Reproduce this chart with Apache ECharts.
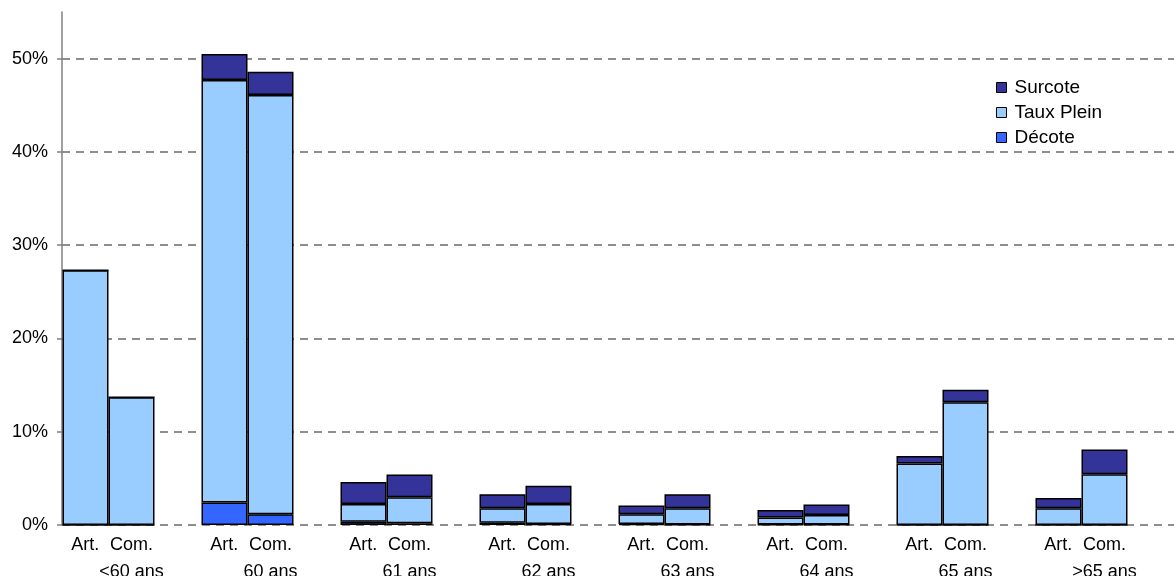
<!DOCTYPE html>
<html>
<head>
<meta charset="utf-8">
<script src="https://cdn.jsdelivr.net/npm/echarts@6/dist/echarts.min.js"></script>
<style>
html,body{margin:0;padding:0;background:#fff;}
#chart{width:1174px;height:576px;}
</style>
</head>
<body>
<div id="chart"></div>
<script>
// Age groups
const groups = ['<60 ans', '60 ans', '61 ans', '62 ans', '63 ans', '64 ans', '65 ans', '>65 ans'];
// Sub-bar labels within each group
const subLabels = ['Art.', 'Com.'];
// Y axis tick values (%)
const yTicks = [0, 10, 20, 30, 40, 50];

// Artisans (Art.)
const artDecote    = [0,    2.4,  0.35, 0.25, 0.1,  0.05, 0,    0];
const artTauxPlein = [27.3, 45.3, 1.9,  1.55, 1.05, 0.75, 6.6,  1.8];
const artSurcote   = [0,    2.8,  2.35, 1.5,  0.95, 0.8,  0.8,  1.1];
// Commerçants (Com.)
const comDecote    = [0,    1.15, 0.18, 0.1,  0.05, 0.05, 0,    0];
const comTauxPlein = [13.7, 44.95,2.8,  2.15, 1.75, 1.02, 13.15,5.45];
const comSurcote   = [0,    2.5,  2.43, 1.95, 1.5,  1.13, 1.35, 2.65];

const colors = { 'Surcote': '#333399', 'Taux Plein': '#99CCFF', 'Décote': '#3366FF' };
const FONT = 'Arial, "Liberation Sans", sans-serif';

const subAxisData = [];
groups.forEach(() => { subAxisData.push(subLabels[0], subLabels[1], ''); });

function barSeries(name, stack, data) {
  return {
    name: name, type: 'bar', stack: stack, data: data,
    barWidth: 46, barGap: '0%',
    itemStyle: { color: colors[name], borderColor: '#000', borderWidth: 1.5 },
    emphasis: { disabled: true }
  };
}

const chart = echarts.init(document.getElementById('chart'), null, { renderer: 'canvas' });
chart.setOption({
  animation: false,
  backgroundColor: '#fff',
  textStyle: { fontFamily: FONT },
  grid: { left: 62, right: 0, top: 12, bottom: 51, containLabel: false, outerBoundsMode: 'none' },
  legend: {
    orient: 'vertical', left: 991, top: 73,
    itemWidth: 10, itemHeight: 10, itemGap: 6,
    icon: 'rect',
    data: ['Surcote', 'Taux Plein', 'Décote'],
    textStyle: { fontSize: 19, color: '#000', fontFamily: FONT, padding: [0, 0, 0, 3] },
    itemStyle: { borderColor: '#000', borderWidth: 1 }
  },
  xAxis: [
    {
      type: 'category', data: groups, position: 'bottom',
      axisLine: { show: false }, axisTick: { show: false },
      axisLabel: { interval: 0, margin: 38, fontSize: 18, color: '#000', fontFamily: FONT }
    },
    {
      type: 'category', data: subAxisData, position: 'bottom',
      axisLine: { show: false }, axisTick: { show: false },
      axisLabel: { interval: 0, margin: 11, fontSize: 18, color: '#000', fontFamily: FONT }
    }
  ],
  yAxis: {
    type: 'value', min: 0, max: 55, interval: 10,
    axisLine: { show: true, lineStyle: { color: '#808080', width: 1.5 } },
    axisTick: { show: true, length: 5, customValues: yTicks, lineStyle: { color: '#808080', width: 1.5 } },
    axisLabel: { customValues: yTicks, formatter: '{value}%', margin: 14, fontSize: 18, color: '#000', fontFamily: FONT },
    splitLine: { show: true, lineStyle: { color: '#6a6a6a', width: 1.5, type: [8, 6] } }
  },
  series: [
    barSeries('Décote', 'art', artDecote),
    barSeries('Taux Plein', 'art', artTauxPlein),
    barSeries('Surcote', 'art', artSurcote),
    barSeries('Décote', 'com', comDecote),
    barSeries('Taux Plein', 'com', comTauxPlein),
    barSeries('Surcote', 'com', comSurcote),
    { name: 'pad', type: 'bar', stack: 'pad', barWidth: 46, barGap: '0%',
      data: groups.map(() => '-'), itemStyle: { color: 'transparent' } }
  ]
});
</script>
</body>
</html>
